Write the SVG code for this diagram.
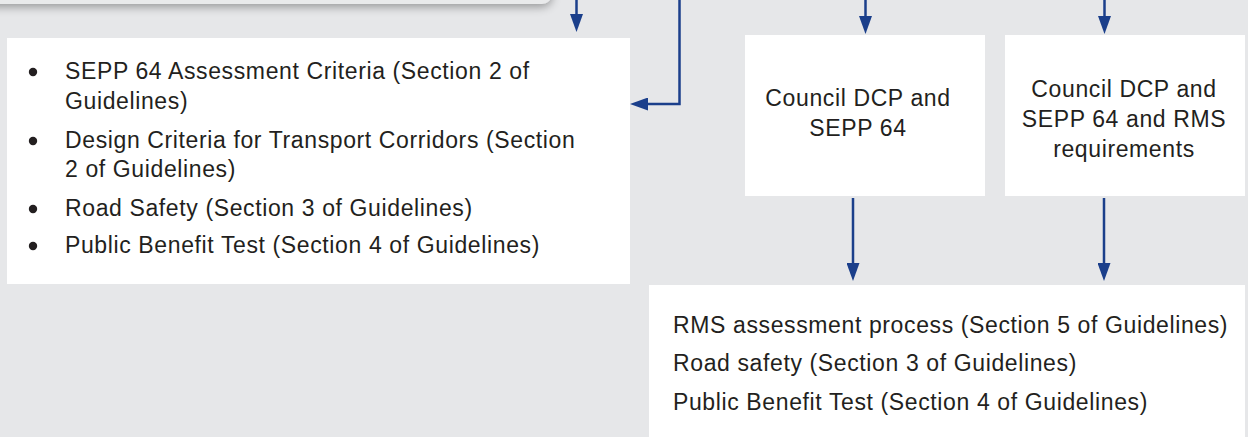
<svg xmlns="http://www.w3.org/2000/svg" width="1248" height="437" viewBox="0 0 1248 437">
<style>
.box{fill:#ffffff}
.t{font-family:"Liberation Sans",Arial,sans-serif;font-size:23px;fill:#231f20;letter-spacing:0.62px}
.c{text-anchor:middle}
.conn{fill:none;stroke:#1b3f8b;stroke-width:2.5}
.bul{fill:#231f20}
</style>
<defs>
<marker id="ah" markerUnits="userSpaceOnUse" markerWidth="18" markerHeight="13" refX="10" refY="6.5" orient="auto">
<path d="M0,0 L18,6.5 L0,13 Z" fill="#1b3f8b"/>
</marker>
<filter id="sh" x="-10%" y="-100%" width="120%" height="400%">
<feGaussianBlur in="SourceAlpha" stdDeviation="5"/>
<feOffset dy="3" result="b"/>
<feComponentTransfer><feFuncA type="linear" slope="0.35"/></feComponentTransfer>
<feMerge><feMergeNode/><feMergeNode in="SourceGraphic"/></feMerge>
</filter>
</defs>
<rect width="1248" height="437" fill="#e6e7e9"/>
<g id="top-box">
<rect x="-20" y="-30" width="572" height="34" rx="10" fill="#e9eaeb" filter="url(#sh)"/>
</g>
<g id="connectors">
<path class="conn" d="M576.5,-5 V24" marker-end="url(#ah)"/>
<path class="conn" d="M679.5,-5 V104 H638" marker-end="url(#ah)"/>
<path class="conn" d="M865.5,-5 V26" marker-end="url(#ah)"/>
<path class="conn" d="M1104.5,-5 V26" marker-end="url(#ah)"/>
<path class="conn" d="M853,198 V273" marker-end="url(#ah)"/>
<path class="conn" d="M1104,198 V273" marker-end="url(#ah)"/>
</g>
<g id="node-criteria">
<rect class="box" x="7" y="38" width="623" height="246"/>
<circle class="bul" cx="33" cy="72" r="4.2"/>
<circle class="bul" cx="33" cy="141" r="4.2"/>
<circle class="bul" cx="33" cy="209" r="4.2"/>
<circle class="bul" cx="33" cy="246" r="4.2"/>
<text class="t" x="65" y="79">SEPP 64 Assessment Criteria (Section 2 of</text>
<text class="t" x="65" y="109">Guidelines)</text>
<text class="t" x="65" y="148">Design Criteria for Transport Corridors (Section</text>
<text class="t" x="65" y="177">2 of Guidelines)</text>
<text class="t" x="65" y="216">Road Safety (Section 3 of Guidelines)</text>
<text class="t" x="65" y="253">Public Benefit Test (Section 4 of Guidelines)</text>
</g>
<g id="node-council-sepp">
<rect class="box" x="745" y="35" width="240" height="161"/>
<text class="t c" x="858" y="106">Council DCP and</text>
<text class="t c" x="858" y="136">SEPP 64</text>
</g>
<g id="node-council-sepp-rms">
<rect class="box" x="1005" y="35" width="240" height="161"/>
<text class="t c" x="1124" y="97">Council DCP and</text>
<text class="t c" x="1124" y="127">SEPP 64 and RMS</text>
<text class="t c" x="1124" y="157">requirements</text>
</g>
<g id="node-rms">
<rect class="box" x="649" y="285" width="596" height="160"/>
<text class="t" x="673" y="333">RMS assessment process (Section 5 of Guidelines)</text>
<text class="t" x="673" y="371">Road safety (Section 3 of Guidelines)</text>
<text class="t" x="673" y="410">Public Benefit Test (Section 4 of Guidelines)</text>
</g>
</svg>
